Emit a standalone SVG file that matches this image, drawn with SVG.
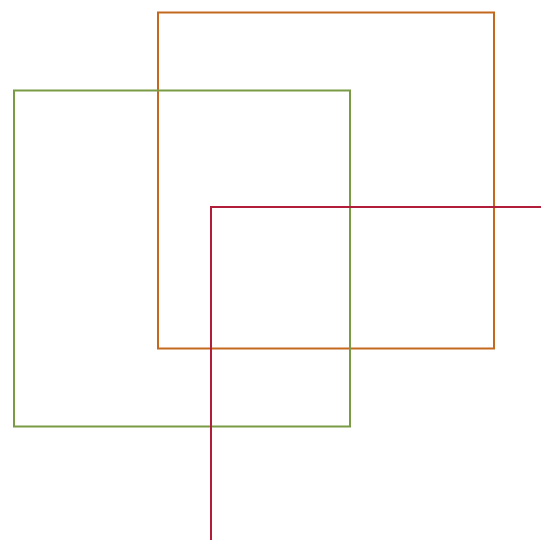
<svg xmlns="http://www.w3.org/2000/svg" width="541" height="540" viewBox="0 0 541 540">
<style>
.sq{fill:none;stroke-width:2}
</style>
<rect width="541" height="540" fill="#ffffff"/>
<g id="orange"><rect class="sq" x="158" y="12.5" width="336" height="336" stroke="#c4681e"/></g>
<g id="green"><rect class="sq" x="14" y="90.5" width="336" height="336" stroke="#7a9b46"/></g>
<g id="red"><rect class="sq" x="211" y="207" width="336" height="336" stroke="#b01e3a"/></g>
</svg>
